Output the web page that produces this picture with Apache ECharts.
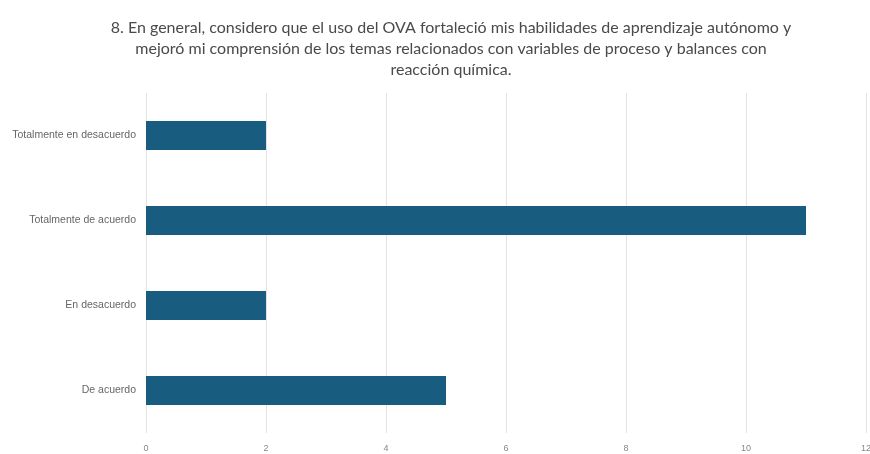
<!DOCTYPE html>
<html>
<head>
<meta charset="utf-8">
<script src="https://cdn.jsdelivr.net/npm/echarts@6/dist/echarts.min.js"></script>
<style>
  html, body { margin: 0; padding: 0; background: #fff; }
  #chart { width: 870px; height: 454px; }
</style>
</head>
<body>
<div id="chart"></div>
<script>
const titleText = '8. En general, considero que el uso del OVA fortaleció mis habilidades de aprendizaje autónomo y\nmejoró mi comprensión de los temas relacionados con variables de proceso y balances con\nreacción química.';
const categories = ['Totalmente en desacuerdo', 'Totalmente de acuerdo', 'En desacuerdo', 'De acuerdo'];
const counts = [2, 11, 2, 5];
const xTicks = [0, 2, 4, 6, 8, 10, 12];

const chart = echarts.init(document.getElementById('chart'), null, { renderer: 'canvas' });
chart.setOption({
  animation: false,
  backgroundColor: '#ffffff',
  title: {
    text: titleText,
    left: 446,
    top: 12,
    textAlign: 'center',
    textStyle: {
      fontFamily: 'Lato',
      fontSize: 16,
      fontWeight: 'normal',
      color: '#4a4a4a',
      lineHeight: 21
    }
  },
  grid: { left: 146, right: 4, top: 93, bottom: 21, containLabel: false, outerBoundsMode: 'none' },
  xAxis: {
    type: 'value',
    min: xTicks[0],
    max: xTicks[xTicks.length - 1],
    interval: 2,
    axisLine: { show: false },
    axisTick: { show: false },
    splitLine: { show: true, lineStyle: { color: '#e3e3e3', width: 1 } },
    axisLabel: { color: '#888888', fontSize: 9, fontFamily: 'Liberation Sans', margin: 11 }
  },
  yAxis: {
    type: 'category',
    data: categories,
    inverse: true,
    axisLine: { show: false },
    axisTick: { show: false },
    axisLabel: { color: '#666666', fontSize: 10.5, fontFamily: 'Liberation Sans Narrow, Liberation Sans', margin: 10 }
  },
  series: [{
    type: 'bar',
    data: counts,
    barWidth: 29,
    itemStyle: { color: '#185c7f' }
  }]
});
</script>
</body>
</html>
